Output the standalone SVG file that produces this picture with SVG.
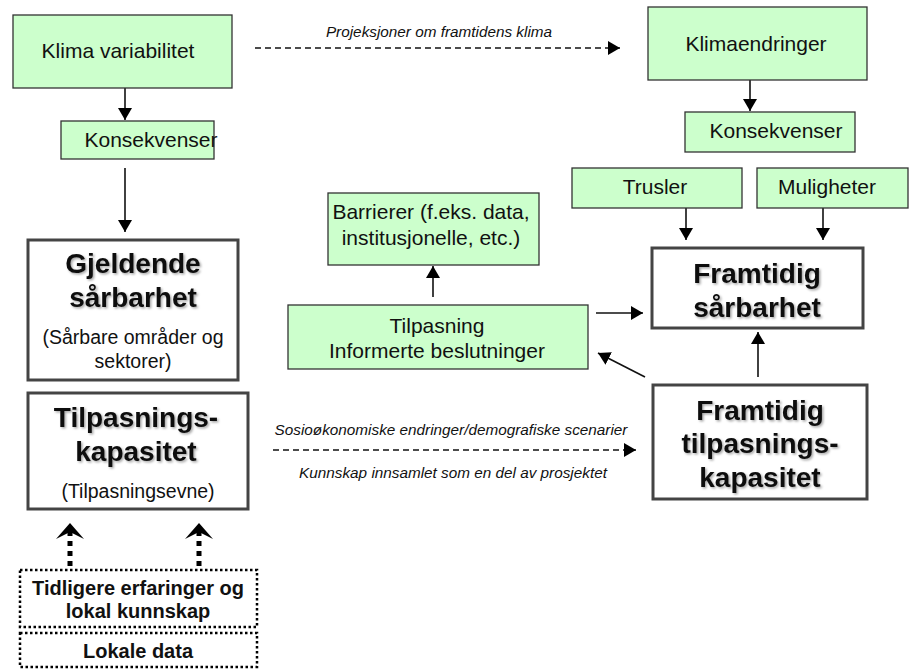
<svg xmlns="http://www.w3.org/2000/svg" width="909" height="669" viewBox="0 0 909 669">
<defs>
<style>
.g{fill:#ccffcc;stroke:#333;stroke-width:1.3}
.w{fill:#fff;stroke:#444;stroke-width:3}
.d{fill:#fff;stroke:#000;stroke-width:2.5;stroke-dasharray:2.5 2.5}
.t{font-family:"Liberation Sans",Arial,sans-serif;font-size:21px;fill:#111;text-anchor:middle}
.b{font-family:"Liberation Sans",Arial,sans-serif;font-size:28px;font-weight:bold;fill:#111;text-anchor:middle;filter:url(#sh)}
.s{font-family:"Liberation Sans",Arial,sans-serif;font-size:19.5px;fill:#111;text-anchor:middle}
.db{font-family:"Liberation Sans",Arial,sans-serif;font-size:20px;font-weight:bold;fill:#111;text-anchor:middle}
.i{font-family:"Liberation Sans",Arial,sans-serif;font-size:15.3px;font-style:italic;fill:#111;text-anchor:middle}
.c{stroke:#111;stroke-width:1.6;fill:none;marker-end:url(#ah)}
.cd{stroke:#111;stroke-width:1.4;fill:none;stroke-dasharray:6 4;marker-end:url(#ah)}
.dot{stroke:#000;stroke-width:5;fill:none;stroke-dasharray:5 5}
</style>
<marker id="ah" markerWidth="13" markerHeight="14" refX="12" refY="7" orient="auto" markerUnits="userSpaceOnUse">
<path d="M0,0 L12,7 L0,14 z" fill="#000"/>
</marker>
<filter id="sh" x="-10%" y="-20%" width="130%" height="150%">
<feDropShadow dx="1.5" dy="1.5" stdDeviation="1" flood-color="#000" flood-opacity="0.35"/>
</filter>
</defs>

<g id="connectors">
<line class="c" x1="125" y1="88" x2="125" y2="120"/>
<line class="c" x1="125" y1="168" x2="125" y2="232"/>
<line class="cd" x1="255" y1="48" x2="620" y2="48"/>
<line class="c" x1="750" y1="80" x2="750" y2="111"/>
<line class="c" x1="686" y1="208" x2="686" y2="240"/>
<line class="c" x1="823" y1="208" x2="823" y2="240"/>
<line class="c" x1="433" y1="297" x2="433" y2="266"/>
<line class="c" x1="596" y1="313" x2="643" y2="313"/>
<line class="c" x1="645" y1="377" x2="598" y2="353"/>
<line class="c" x1="758" y1="377" x2="758" y2="332"/>
<line class="cd" x1="273" y1="450" x2="636" y2="450"/>
<line class="dot" x1="70" y1="566" x2="70" y2="531"/>
<line class="dot" x1="199" y1="566" x2="199" y2="531"/>
<polygon points="56,539 70,523 84,539 70,532" fill="#000"/>
<polygon points="185,539 199,523 213,539 199,532" fill="#000"/>
</g>

<g id="label-projeksjoner"><text class="i" x="439" y="37">Projeksjoner om framtidens klima</text></g>
<g id="label-sosio"><text class="i" x="451" y="435">Sosioøkonomiske endringer/demografiske scenarier</text></g>
<g id="label-kunnskap"><text class="i" x="453" y="478">Kunnskap innsamlet som en del av prosjektet</text></g>

<g id="klima-variabilitet">
<rect class="g" x="13" y="15" width="219" height="73"/>
<text class="t" x="118" y="58" font-size="22">Klima variabilitet</text>
</g>
<g id="konsekvenser-left">
<rect class="g" x="61" y="121" width="153" height="38"/>
<text class="t" x="151" y="147" font-size="19.5">Konsekvenser</text>
</g>
<g id="gjeldende-sarbarhet">
<rect class="w" x="28" y="240" width="210" height="140"/>
<text class="b" x="133" y="273">Gjeldende</text>
<text class="b" x="133" y="307">sårbarhet</text>
<text class="s" x="133" y="344">(Sårbare områder og</text>
<text class="s" x="133" y="368">sektorer)</text>
</g>
<g id="tilpasningskapasitet">
<rect class="w" x="28" y="393" width="220" height="116"/>
<text class="b" x="136" y="427">Tilpasnings-</text>
<text class="b" x="136" y="461">kapasitet</text>
<text class="s" x="138" y="498">(Tilpasningsevne)</text>
</g>
<g id="tidligere-erfaringer">
<rect class="d" x="20" y="570" width="237" height="57"/>
<text class="db" x="138" y="595">Tidligere erfaringer og</text>
<text class="db" x="138" y="618">lokal kunnskap</text>
</g>
<g id="lokale-data">
<rect class="d" x="20" y="633" width="237" height="34"/>
<text class="db" x="138" y="658">Lokale data</text>
</g>
<g id="klimaendringer">
<rect class="g" x="648" y="7" width="219" height="73"/>
<text class="t" x="756" y="51">Klimaendringer</text>
</g>
<g id="konsekvenser-right">
<rect class="g" x="685" y="112" width="170" height="40"/>
<text class="t" x="776" y="138" font-size="19.5">Konsekvenser</text>
</g>
<g id="trusler">
<rect class="g" x="572" y="168" width="170" height="40"/>
<text class="t" x="655" y="194" font-size="20">Trusler</text>
</g>
<g id="muligheter">
<rect class="g" x="757" y="168" width="151" height="40"/>
<text class="t" x="827" y="194">Muligheter</text>
</g>
<g id="barrierer">
<rect class="g" x="328" y="193" width="211" height="72"/>
<text class="t" x="431" y="219">Barrierer (f.eks. data,</text>
<text class="t" x="431" y="245">institusjonelle, etc.)</text>
</g>
<g id="tilpasning">
<rect class="g" x="288" y="305" width="300" height="64"/>
<text class="t" x="437" y="333">Tilpasning</text>
<text class="t" x="437" y="358">Informerte beslutninger</text>
</g>
<g id="framtidig-sarbarhet">
<rect class="w" x="652" y="248" width="211" height="80"/>
<text class="b" x="757" y="283">Framtidig</text>
<text class="b" x="757" y="317">sårbarhet</text>
</g>
<g id="framtidig-tilpasningskapasitet">
<rect class="w" x="653" y="385" width="214" height="114"/>
<text class="b" x="760" y="420">Framtidig</text>
<text class="b" x="760" y="453">tilpasnings-</text>
<text class="b" x="760" y="487">kapasitet</text>
</g>
</svg>
